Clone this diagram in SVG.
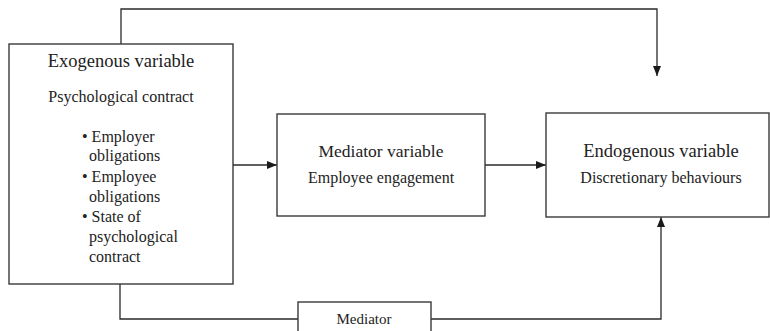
<svg xmlns="http://www.w3.org/2000/svg" width="770" height="331" viewBox="0 0 770 331" font-family="'Liberation Serif', 'Times New Roman', serif">
<style>
.box{fill:#fff;stroke:#3a3a3a;stroke-width:1.4}
.ln{fill:none;stroke:#2a2a2a;stroke-width:1.3}
text{font-family:'Liberation Serif','Times New Roman',serif;fill:#222}
.t{font-size:18.5px;text-anchor:middle}
.s{font-size:16px;text-anchor:middle}
.b{font-size:16px}
</style>
<defs>
<marker id="ah" viewBox="0 0 10 8" refX="10" refY="4" markerWidth="10" markerHeight="8" markerUnits="userSpaceOnUse" orient="auto">
<path d="M0,0 L10,4 L0,8 Z" fill="#1a1a1a"/>
</marker>
</defs>
<g id="connectors">
<path class="ln" d="M121,44 V9 H657 V76" marker-end="url(#ah)"/>
<path class="ln" d="M233,165 H277" marker-end="url(#ah)"/>
<path class="ln" d="M485,165 H546" marker-end="url(#ah)"/>
<path class="ln" d="M120,284 V319 H298"/>
<path class="ln" d="M431,319 H661 V217" marker-end="url(#ah)"/>
</g>
<g id="exogenous">
<rect class="box" x="9" y="44" width="224" height="240"/>
<text class="t" x="121" y="67">Exogenous variable</text>
<text class="s" x="121" y="102">Psychological contract</text>
<text class="b" x="82" y="142">• Employer</text>
<text class="b" x="89" y="161">obligations</text>
<text class="b" x="82" y="182">• Employee</text>
<text class="b" x="89" y="202">obligations</text>
<text class="b" x="82" y="222">• State of</text>
<text class="b" x="89" y="242">psychological</text>
<text class="b" x="89" y="262">contract</text>
</g>
<g id="mediator-variable">
<rect class="box" x="277" y="114" width="208" height="102"/>
<text class="t" x="381" y="157" style="font-size:17.5px">Mediator variable</text>
<text class="s" x="381" y="183">Employee engagement</text>
</g>
<g id="endogenous">
<rect class="box" x="546" y="113" width="223" height="104"/>
<text class="t" x="661" y="157">Endogenous variable</text>
<text class="s" x="661" y="183">Discretionary behaviours</text>
</g>
<g id="mediator">
<rect class="box" x="298" y="302" width="133" height="40"/>
<text class="s" x="364" y="324" style="font-size:15px">Mediator</text>
</g>
</svg>
